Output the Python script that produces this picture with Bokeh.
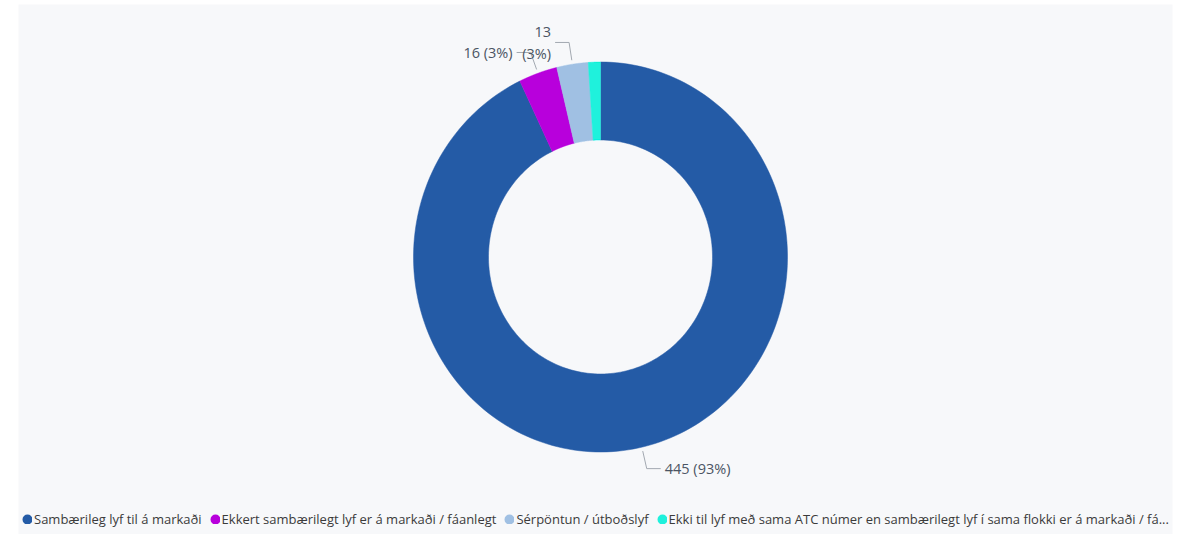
import numpy as np
from bokeh.plotting import figure
from bokeh.models import Range1d, ColumnDataSource, Legend, LegendItem
from bokeh.core.properties import value
from bokeh.embed import file_html
from bokeh.resources import INLINE

# ---- data ----
categories = [
    "Sambærileg lyf til á markaði",
    "Ekkert sambærilegt lyf er á markaði / fáanlegt",
    "Sérpöntun / útboðslyf",
    "Ekki til lyf með sama ATC númer en sambærilegt lyf í sama flokki er á markaði / fá...",
]
values = [445, 16, 13, 5]
label_texts = ["445 (93%)", "16 (3%)", "13\n(3%)", ""]
colors = ["#245BA6", "#B800DC", "#A0C0E3", "#1FF1DC"]

# ---- style / layout ----
PANEL = "#F7F8FA"
RX_OUT, RY_OUT = 187, 195
RX_IN, RY_IN = 112, 117
FONT = "Open Sans"

p = figure(width=1186, height=534, output_backend="svg", toolbar_location=None,
           x_range=Range1d(-582, 572), y_range=Range1d(-277.5, 252.5),
           min_border_left=18, min_border_right=14, min_border_top=4, min_border_bottom=0)
p.axis.visible = False
p.grid.visible = False
p.outline_line_color = None
p.background_fill_color = PANEL
p.border_fill_color = "white"

vals = np.array(values, dtype=float)
frac = vals / vals.sum()
cum = np.concatenate([[0], np.cumsum(frac)])

xs, ys = [], []
for i in range(len(vals)):
    a0 = np.pi / 2 - 2 * np.pi * cum[i]
    a1 = np.pi / 2 - 2 * np.pi * cum[i + 1]
    t = np.linspace(a0, a1, 200)
    xo, yo = RX_OUT * np.cos(t), RY_OUT * np.sin(t)
    xi, yi = RX_IN * np.cos(t[::-1]), RY_IN * np.sin(t[::-1])
    xs.append(np.concatenate([xo, xi]).tolist())
    ys.append(np.concatenate([yo, yi]).tolist())

src = ColumnDataSource(dict(xs=xs, ys=ys, color=colors, cat=categories))
p.patches("xs", "ys", source=src, fill_color="color", line_color="color", line_width=0.5)

# ---- data labels with leader lines ----
lx, ly, tx, ty, tt, ta = [], [], [], [], [], []
for i in range(len(vals)):
    if not label_texts[i]:
        continue
    mid = np.pi / 2 - 2 * np.pi * (cum[i] + cum[i + 1]) / 2
    sx, sy = (RX_OUT + 4) * np.cos(mid), (RY_OUT + 4) * np.sin(mid)
    ex, ey = (RX_OUT + 22) * np.cos(mid), (RY_OUT + 22) * np.sin(mid)
    d = 1 if np.cos(mid) >= 0 else -1
    hx = ex + d * 14
    lx.append([sx, ex, hx]); ly.append([sy, ey, ey])
    tx.append(hx + d * 4); ty.append(ey)
    tt.append(label_texts[i]); ta.append("left" if d > 0 else "right")

p.multi_line(lx, ly, line_color="#A3A9B1", line_width=1)
p.text(x=tx, y=ty, text=tt, text_align=ta, text_baseline="middle",
       text_font=value(FONT), text_font_size="14.5px", text_color="#4B5563",
       text_line_height=1.15)

# ---- legend ----
items = []
for c, name in zip(colors, categories):
    r = p.scatter(x=[np.nan], y=[np.nan], size=4, marker="circle",
                  fill_color=c, line_color=c, line_width=6)
    items.append(LegendItem(label=name, renderers=[r]))
legend = Legend(items=items, orientation="horizontal", location=(4, 6),
                glyph_width=10, glyph_height=10, label_height=10,
                label_standoff=2, spacing=8, padding=0, margin=0,
                label_text_font=FONT, label_text_font_size="13px",
                label_text_color="#3B3B3B", background_fill_alpha=0,
                border_line_color=None)
p.add_layout(legend)

open("out.html", "w").write(file_html(p, INLINE))
